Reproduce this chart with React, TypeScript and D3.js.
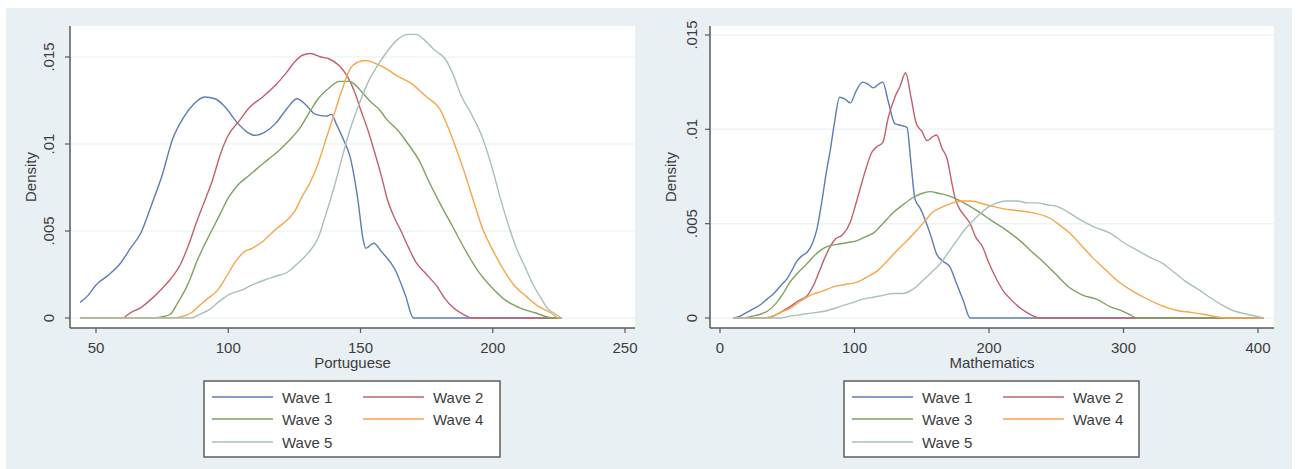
import React from "react";
import * as d3 from "d3";

type Pt = [number, number];

const seriesNames = ["Wave 1", "Wave 2", "Wave 3", "Wave 4", "Wave 5"];
const seriesColors = ["#5b7db4", "#c2606d", "#7ea260", "#f6a648", "#a9c0b8"];

const portXTicks = [50, 100, 150, 200, 250];
const mathXTicks = [0, 100, 200, 300, 400];
const yTicks = [0, 0.005, 0.01, 0.015];
const yTickLabels = ["0", ".005", ".01", ".015"];

const portWave1: Pt[] = [[44,0.0009],[47,0.0013],[50,0.0019],[55,0.0025],[59,0.0031],[63,0.004],[67,0.0049],[71,0.0065],[75,0.0082],[79,0.0103],[83,0.0115],[87,0.0123],[91,0.0127],[95,0.0126],[99,0.0121],[103,0.0113],[107,0.0107],[110,0.0105],[114,0.0107],[118,0.0112],[122,0.012],[126,0.0126],[129,0.0123],[133,0.0117],[137,0.0116],[139,0.0117],[141,0.0111],[144,0.0101],[146,0.0093],[149,0.0068],[151,0.0045],[152,0.004],[155,0.0043],[158,0.0038],[163,0.0028],[167,0.0013],[170,0],[226,0]];
const portWave2: Pt[] = [[44,0],[60,0],[63,0.0003],[67,0.0006],[71,0.0011],[75,0.0017],[78,0.0022],[82,0.0031],[85,0.0042],[88,0.0055],[91,0.0067],[94,0.0079],[97,0.0094],[100,0.0105],[104,0.0113],[108,0.0121],[113,0.0127],[118,0.0134],[122,0.0141],[125,0.0147],[128,0.0151],[131,0.0152],[135,0.015],[138,0.0149],[142,0.0145],[145,0.0139],[148,0.0129],[150,0.012],[153,0.0107],[155,0.0097],[158,0.0081],[160,0.0069],[163,0.0057],[165,0.0051],[168,0.0041],[171,0.0032],[175,0.0025],[179,0.0018],[182,0.0011],[185,0.0006],[189,0.0002],[192,0],[226,0]];
const portWave3: Pt[] = [[44,0],[72,0],[76,0.0001],[78,0.0002],[81,0.0009],[84,0.0017],[86,0.0024],[88,0.0032],[91,0.0042],[94,0.0051],[97,0.006],[100,0.0069],[104,0.0077],[108,0.0082],[111,0.0086],[115,0.0091],[119,0.0096],[123,0.0102],[127,0.0109],[131,0.0119],[134,0.0126],[138,0.0132],[142,0.0136],[146,0.0136],[148,0.0134],[151,0.0129],[154,0.0124],[157,0.012],[160,0.0114],[164,0.0108],[168,0.01],[172,0.0091],[176,0.0078],[180,0.0066],[185,0.0052],[190,0.0038],[194,0.0028],[200,0.0017],[205,0.001],[210,0.0006],[216,0.0003],[223,0],[226,0]];
const portWave4: Pt[] = [[44,0],[79,0],[83,0.0001],[86,0.0003],[89,0.0007],[92,0.0011],[96,0.0016],[99,0.0023],[103,0.0033],[106,0.0038],[109,0.004],[113,0.0044],[118,0.0051],[122,0.0056],[125,0.0061],[128,0.007],[131,0.0078],[134,0.0089],[137,0.0103],[140,0.0117],[143,0.0131],[146,0.0143],[149,0.0147],[152,0.0148],[156,0.0146],[160,0.0143],[164,0.0139],[169,0.0135],[175,0.0127],[180,0.012],[183,0.011],[186,0.0098],[189,0.0085],[193,0.0066],[196,0.0052],[200,0.0039],[204,0.0028],[208,0.0019],[213,0.0012],[217,0.0007],[222,0.0003],[225,0],[226,0]];
const portWave5: Pt[] = [[44,0],[86,0],[89,0.0002],[93,0.0005],[97,0.001],[101,0.0014],[105,0.0016],[109,0.0019],[114,0.0022],[118,0.0024],[122,0.0026],[126,0.0031],[130,0.0037],[134,0.0046],[137,0.006],[140,0.0075],[143,0.0092],[146,0.0108],[150,0.0125],[153,0.0136],[156,0.0144],[160,0.0153],[164,0.016],[168,0.0163],[171,0.0163],[174,0.016],[178,0.0154],[182,0.0149],[185,0.014],[188,0.0128],[192,0.0117],[196,0.0104],[200,0.0085],[203,0.0068],[206,0.0053],[209,0.004],[212,0.003],[215,0.002],[218,0.0012],[221,0.0005],[223,0.0003],[226,0]];

const mathWave1: Pt[] = [[10,0],[15,0.0001],[20,0.0003],[25,0.0005],[30,0.0007],[35,0.001],[40,0.0013],[45,0.0017],[50,0.0021],[54,0.0026],[57,0.003],[61,0.0033],[65,0.0035],[69,0.004],[72,0.0047],[76,0.0063],[79,0.0077],[82,0.0089],[85,0.0103],[89,0.0117],[93,0.0116],[97,0.0114],[101,0.012],[106,0.0125],[110,0.0124],[114,0.0122],[118,0.0124],[121,0.0125],[125,0.0115],[130,0.0103],[135,0.0102],[139,0.0101],[142,0.0082],[145,0.0063],[149,0.0058],[152,0.0053],[157,0.0043],[161,0.0034],[166,0.003],[171,0.0027],[176,0.0018],[181,0.0009],[186,0],[404,0]];
const mathWave2: Pt[] = [[10,0],[35,0],[45,0.0003],[52,0.0006],[58,0.0009],[65,0.0012],[70,0.0018],[74,0.0025],[78,0.0032],[82,0.0038],[86,0.0042],[91,0.0044],[97,0.0051],[100,0.0058],[104,0.0068],[108,0.0078],[113,0.0088],[117,0.0091],[121,0.0093],[125,0.0106],[130,0.0117],[134,0.0123],[138,0.013],[142,0.0117],[146,0.0103],[150,0.0099],[154,0.0094],[158,0.0096],[161,0.0097],[165,0.009],[169,0.0084],[172,0.0073],[175,0.0063],[178,0.0058],[182,0.0054],[186,0.005],[190,0.0043],[195,0.0038],[200,0.0029],[206,0.002],[211,0.0014],[216,0.001],[222,0.0006],[228,0.0003],[238,0],[404,0]];
const mathWave3: Pt[] = [[10,0],[17,0],[24,0.0001],[30,0.0002],[36,0.0004],[42,0.0008],[47,0.0013],[52,0.0019],[58,0.0024],[65,0.0029],[70,0.0033],[75,0.0036],[80,0.0038],[87,0.0039],[95,0.004],[102,0.0041],[108,0.0043],[114,0.0045],[121,0.005],[129,0.0056],[136,0.006],[144,0.0064],[150,0.0066],[156,0.0067],[163,0.0066],[169,0.0065],[176,0.0063],[184,0.006],[193,0.0056],[201,0.0052],[212,0.0047],[223,0.0041],[232,0.0035],[240,0.003],[250,0.0023],[260,0.0016],[270,0.0012],[280,0.001],[290,0.0006],[298,0.0004],[304,0.0002],[310,0],[404,0]];
const mathWave4: Pt[] = [[10,0],[30,0],[39,0.0001],[45,0.0003],[52,0.0005],[60,0.0009],[67,0.0012],[75,0.0014],[87,0.0017],[95,0.0018],[102,0.0019],[110,0.0022],[117,0.0025],[124,0.003],[132,0.0036],[139,0.0041],[147,0.0047],[153,0.0052],[158,0.0056],[166,0.0059],[173,0.0061],[180,0.0062],[186,0.0062],[198,0.006],[210,0.0058],[220,0.0057],[231,0.0056],[245,0.0053],[253,0.0049],[260,0.0045],[268,0.0039],[277,0.0032],[286,0.0026],[295,0.002],[305,0.0015],[315,0.0011],[327,0.0007],[340,0.0004],[350,0.0003],[359,0.0002],[377,0],[404,0]];
const mathWave5: Pt[] = [[10,0],[45,0],[52,0.0001],[62,0.0002],[72,0.0003],[80,0.0004],[89,0.0006],[98,0.0008],[106,0.001],[114,0.0011],[121,0.0012],[129,0.0013],[136,0.0013],[143,0.0015],[151,0.002],[157,0.0024],[164,0.0029],[170,0.0035],[176,0.0041],[181,0.0046],[186,0.005],[193,0.0055],[200,0.0059],[206,0.0061],[213,0.0062],[221,0.0062],[229,0.0061],[236,0.0061],[243,0.006],[251,0.0059],[259,0.0056],[268,0.0052],[279,0.0048],[290,0.0045],[300,0.004],[310,0.0036],[320,0.0032],[329,0.0029],[338,0.0024],[347,0.0019],[356,0.0015],[364,0.0011],[373,0.0007],[381,0.0004],[392,0.0002],[404,0]];

const portSeries = [portWave1, portWave2, portWave3, portWave4, portWave5];
const mathSeries = [mathWave1, mathWave2, mathWave3, mathWave4, mathWave5];

const FONT = "Arial, 'Liberation Sans', Helvetica, sans-serif";
const TXT = "#3c3c3c";
const AXIS = "#5a5a5a";

interface PanelProps {
  title: string;
  series: Pt[][];
  xTicks: number[];
  xDomain: [number, number];
  xRange: [number, number];
  yRange: [number, number];
  plot: { x0: number; x1: number; y0: number; y1: number };
  yTickX: number;
  yTitleX: number;
  legend: { x0: number; x1: number; y0: number; y1: number };
}

function Panel(p: PanelProps) {
  const x = d3.scaleLinear().domain(p.xDomain).range(p.xRange);
  const y = d3.scaleLinear().domain([0, 0.015]).range(p.yRange);
  const line = d3
    .line<Pt>()
    .x((d) => x(d[0]))
    .y((d) => y(d[1]))
    .curve(d3.curveMonotoneX);
  const { x0, x1, y0, y1 } = p.plot;
  const cx = (x0 + x1) / 2;
  const cy = (y0 + y1) / 2;
  const L = p.legend;
  const rowY = [L.y0 + 16, L.y0 + 38, L.y0 + 61];
  const colX = [L.x0 + 8, L.x0 + 159];
  return (
    <g>
      <rect x={x0} y={y0} width={x1 - x0} height={y1 - y0} fill="#ffffff" />
      {yTicks.map((t) => (
        <line key={"g" + t} x1={x0} x2={x1} y1={y(t)} y2={y(t)} stroke="#eef4f5" strokeWidth={1.5} />
      ))}
      {p.series.map((s, i) => (
        <path key={i} d={line(s) || ""} fill="none" stroke={seriesColors[i]} strokeWidth={1.4} strokeLinejoin="round" />
      ))}
      <line x1={x0} x2={x0} y1={y0} y2={y1} stroke={AXIS} strokeWidth={1.5} />
      <line x1={x0} x2={x1} y1={y1} y2={y1} stroke={AXIS} strokeWidth={1.5} />
      {yTicks.map((t, i) => (
        <g key={"yt" + t}>
          <line x1={x0 - 5} x2={x0} y1={y(t)} y2={y(t)} stroke={AXIS} strokeWidth={1.2} />
          <text
            transform={`translate(${p.yTickX},${y(t)}) rotate(-90)`}
            textAnchor="middle"
            fontFamily={FONT}
            fontSize={15}
            fill={TXT}
          >
            {yTickLabels[i]}
          </text>
        </g>
      ))}
      {p.xTicks.map((t) => (
        <g key={"xt" + t}>
          <line x1={x(t)} x2={x(t)} y1={y1} y2={y1 + 5} stroke={AXIS} strokeWidth={1.2} />
          <text x={x(t)} y={353} textAnchor="middle" fontFamily={FONT} fontSize={15} fill={TXT}>
            {t}
          </text>
        </g>
      ))}
      <text
        transform={`translate(${p.yTitleX},${cy}) rotate(-90)`}
        textAnchor="middle"
        fontFamily={FONT}
        fontSize={15}
        fill={TXT}
      >
        Density
      </text>
      <text x={cx} y={368} textAnchor="middle" fontFamily={FONT} fontSize={15} fill={TXT}>
        {p.title}
      </text>
      <rect x={L.x0} y={L.y0} width={L.x1 - L.x0} height={L.y1 - L.y0} fill="#ffffff" stroke="#5e5e5e" strokeWidth={1.5} />
      {seriesNames.map((n, i) => {
        const col = i % 2;
        const row = Math.floor(i / 2);
        const lx = colX[col];
        const ly = rowY[row];
        return (
          <g key={n}>
            <line x1={lx} x2={lx + 61} y1={ly} y2={ly} stroke={seriesColors[i]} strokeWidth={1.5} />
            <text x={lx + 70} y={ly + 6} fontFamily={FONT} fontSize={15} fill={TXT}>
              {n}
            </text>
          </g>
        );
      })}
    </g>
  );
}

export default function App() {
  return (
    <svg width={1299} height={469} style={{ position: "absolute", left: 0, top: 0 }}>
      <rect x={0} y={0} width={1299} height={469} fill="#ffffff" />
      <rect x={6} y={8} width={1286} height={461} fill="#e9f0f3" />
      <Panel
        title="Portuguese"
        series={portSeries}
        xTicks={portXTicks}
        xDomain={[50, 250]}
        xRange={[96, 625]}
        yRange={[318, 57]}
        plot={{ x0: 70, x1: 635, y0: 26, y1: 328 }}
        yTickX={54}
        yTitleX={36}
        legend={{ x0: 204, x1: 500, y0: 381, y1: 457 }}
      />
      <Panel
        title="Mathematics"
        series={mathSeries}
        xTicks={mathXTicks}
        xDomain={[0, 400]}
        xRange={[720, 1258]}
        yRange={[318, 35]}
        plot={{ x0: 710, x1: 1274, y0: 26, y1: 328 }}
        yTickX={697}
        yTitleX={676}
        legend={{ x0: 844, x1: 1139, y0: 381, y1: 457 }}
      />
    </svg>
  );
}
